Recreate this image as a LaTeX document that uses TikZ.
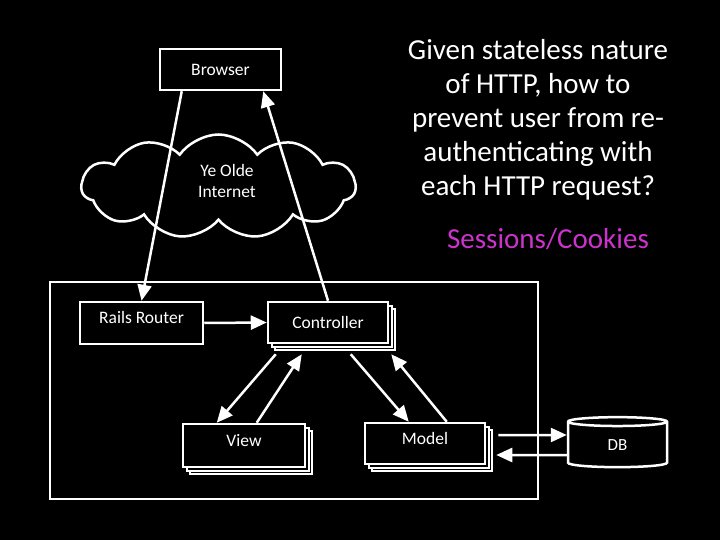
\documentclass[tikz,border=0pt]{standalone}
\usepackage{fontspec}
\setmainfont{Carlito}
\usepackage{tikz}
\usetikzlibrary{arrows.meta,calc,shapes.geometric,shapes.symbols,shadows}
\definecolor{ink}{HTML}{FFFFFF}
\definecolor{bg}{HTML}{000000}
\definecolor{pinkish}{HTML}{CC33CC}

\begin{document}
\begin{tikzpicture}[x=1pt,y=-1pt,
  box/.style={draw=ink,line width=2.5pt,fill=bg,text=ink,inner sep=0pt,font=\fontsize{17.5}{20}\selectfont},
  stackbox/.style={box,double copy shadow={shadow xshift=3.5pt,shadow yshift=-3.5pt,draw=ink,fill=bg,line width=2pt}},
  flow/.style={draw=ink,line width=2.5pt,-{Triangle[length=16pt,width=14pt]}},
  bigtext/.style={text=ink,font=\fontsize{29}{34}\selectfont,align=center,inner sep=0pt}]
\fill[bg] (0,0) rectangle (720,540);
\useasboundingbox (0,0) rectangle (720,540);
% outer application frame
\draw[ink,line width=2.5pt] (50,282) rectangle (538,499);
% internet
\node[cloud,draw=ink,line width=2.5pt,cloud puffs=11,cloud puff arc=110,aspect=2.6,
  minimum width=274pt,minimum height=104pt,inner sep=0pt] (net) at (218.5,186.5) {};
\node[text=ink,align=center,font=\fontsize{17.5}{21}\selectfont] (nettext) at (227,181) {Ye Olde\\Internet};
% boxes
\node[box,minimum width=121pt,minimum height=41pt] (browser) at (220.5,69.5) {Browser};
\node[box,minimum width=123pt,minimum height=42pt,text depth=11pt] (router) at (141.5,323) {Rails Router};
\node[stackbox,minimum width=120pt,minimum height=41pt] (ctrl) at (328,322.5) {Controller};
\node[stackbox,minimum width=122pt,minimum height=43pt,text depth=10pt] (view) at (244,445.5) {View};
\node[stackbox,minimum width=120pt,minimum height=41pt,text depth=11pt] (model) at (425,443.5) {Model};
\node[cylinder,shape border rotate=90,aspect=0.45,draw=ink,line width=2.5pt,fill=bg,text=ink,
  minimum width=99pt,minimum height=50pt,inner sep=0pt,font=\fontsize{17}{20}\selectfont] (db) at (617.5,445) {DB};
% connectors
\draw[flow] ($(browser.south west)+(23,0)$) -- (router.north);
\draw[flow] (ctrl.north) -- ($(browser.south east)+(-19,0)$);
\draw[flow] (router.east) -- (ctrl.west);
\draw[flow] ($(ctrl.south west)+(9,10)$) -- ($(view.north west)+(35,0)$);
\draw[flow] ($(view.north west)+(75,0)$) -- ($(ctrl.south west)+(35,10)$);
\draw[flow] ($(ctrl.south west)+(84,10)$) -- ($(model.north west)+(45,0)$);
\draw[flow] ($(model.north west)+(83,0)$) -- ($(ctrl.south east)+(2,10)$);
\draw[flow] ($(model.east)+(12,-8.5)$) -- ($(db.west)+(0,-10)$);
\draw[flow] ($(db.west)+(0,10)$) -- ($(model.east)+(10,11.5)$);
% question
\node[bigtext,anchor=north] (question) at (538,39) {Given stateless nature\\of HTTP, how to\\prevent user from re-\\authenticating with\\each HTTP request?};
\node[bigtext,text=pinkish,anchor=base] (answer) at (548,248) {Sessions/Cookies};
\end{tikzpicture}
\end{document}
